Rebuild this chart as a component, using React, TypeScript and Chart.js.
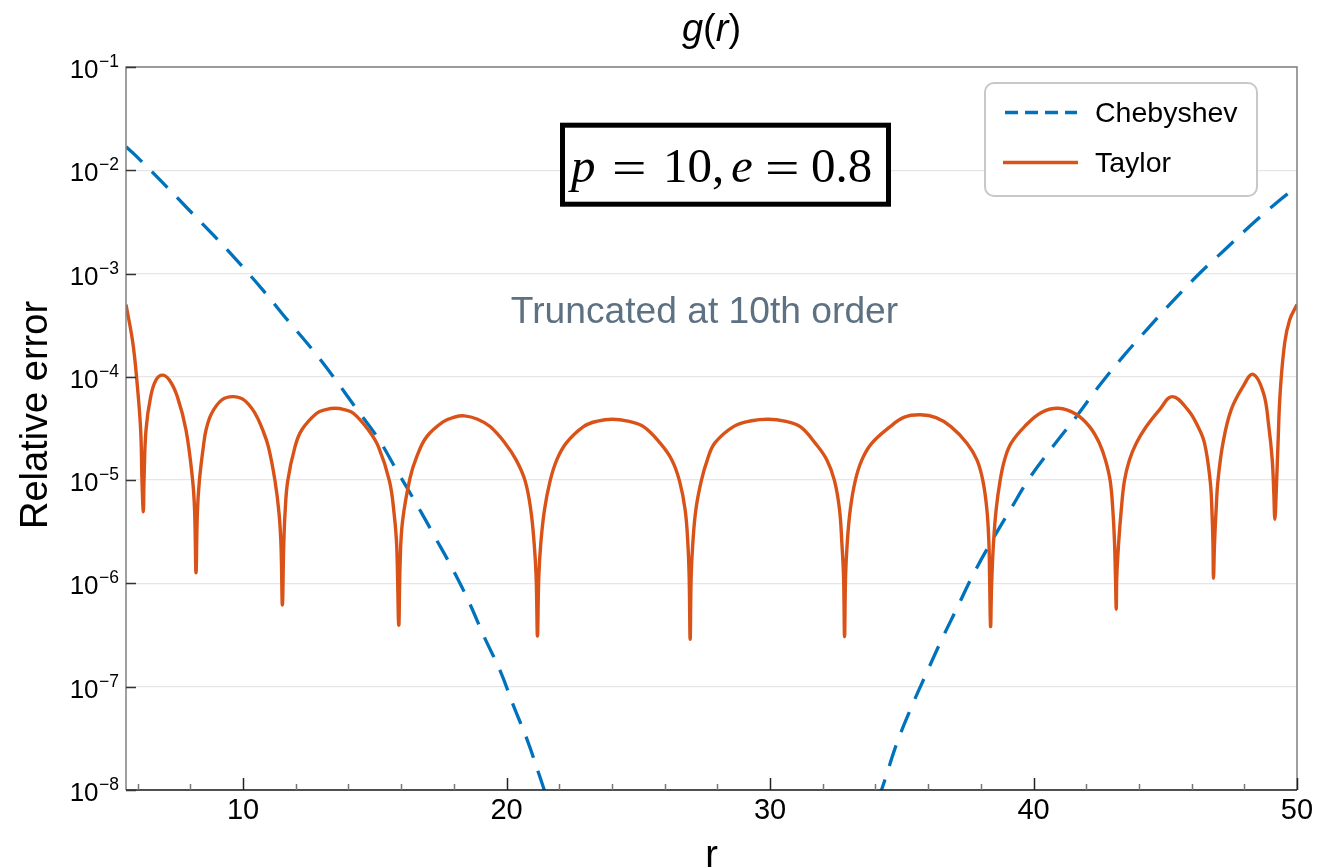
import React, { useEffect, useRef } from 'react';
import { Chart, registerables } from 'chart.js';

Chart.register(...registerables);

// ---------- axis ranges & ticks ----------
const xMin = 5.5556;
const xMax = 50;
const yMin = 1e-8;
const yMax = 1e-1;
const xMajorTicks = [10, 20, 30, 40, 50];
const xMinorTicks = [6, 8, 12, 14, 16, 18, 22, 24, 26, 28, 32, 34, 36, 38, 42, 44, 46, 48];
const yTickValues = [1e-8, 1e-7, 1e-6, 1e-5, 1e-4, 1e-3, 1e-2, 1e-1];
const yTickExponents = ['−8', '−7', '−6', '−5', '−4', '−3', '−2', '−1'];

// ---------- Taylor series relative error ----------
const taylorR = [
  5.5556, 5.809, 5.96, 6.112, 6.163, 6.214,
  6.239, 6.315, 6.492, 6.694, 6.935, 7.201, 7.504, 7.833, 8.087, 8.163, 8.213,
  8.264, 8.34, 8.492, 8.593, 8.808, 9.188, 9.605, 10.035, 10.453, 10.744, 10.959, 11.212, 11.364, 11.44, 11.491,
  11.541, 11.592, 11.693, 11.972, 12.225, 12.794, 13.14, 13.49, 13.84, 14.186, 14.755, 15.135, 15.553, 15.73, 15.831, 15.907,
  15.96, 16.05, 16.338, 16.591, 16.971, 17.604, 18.0, 18.4, 18.9, 19.375, 19.945, 20.362, 20.704, 20.919, 21.046, 21.122, 21.172,
  21.223, 21.299, 21.438, 21.653, 21.906, 22.261, 22.919, 23.45, 24.019, 24.6, 25.197, 25.829, 26.272, 26.563, 26.778, 26.88, 26.93, 26.968,
  27.006, 27.069, 27.183, 27.39, 27.62, 27.9, 28.613, 29.3, 29.942, 30.55, 31.144, 31.714, 32.157, 32.448, 32.638, 32.726, 32.79, 32.828,
  32.866, 32.929, 33.043, 33.233, 33.486, 33.865, 34.561, 35.1, 35.7, 36.3, 36.865, 37.472, 37.852, 38.079, 38.231, 38.307, 38.333, 38.37,
  38.41, 38.48, 38.58, 38.73, 38.9, 39.15, 39.66, 40.3, 40.95, 41.6, 42.125, 42.5, 42.73, 42.91, 43.01, 43.075, 43.11, 43.14,
  43.16, 43.23, 43.33, 43.45, 43.64, 43.9, 44.28, 44.78, 45.26, 45.86, 46.24, 46.49, 46.705, 46.77, 46.81, 46.83,
  46.87, 46.93, 47.0, 47.19, 47.5, 47.95, 48.33, 48.73, 48.93, 49.06, 49.12, 49.16,
  49.21, 49.28, 49.36, 49.53, 49.72, 50.0,
];
const taylorErr = [
  5.01e-4, 2.19e-4, 9.68e-5, 3.06e-5, 9.82e-6, 4.95e-6,
  9.82e-6, 3.06e-5, 6.44e-5, 9.33e-5, 1.04e-4, 9.33e-5, 6.44e-5, 3.06e-5, 9.82e-6, 4.78e-6, 1.27e-6,
  4.78e-6, 9.82e-6, 2.11e-5, 3.06e-5, 4.44e-5, 5.97e-5, 6.44e-5, 5.97e-5, 4.44e-5, 3.06e-5, 2.11e-5, 9.82e-6, 4.78e-6, 2.28e-6, 6.19e-7,
  2.28e-6, 4.78e-6, 9.82e-6, 2.11e-5, 3.06e-5, 4.44e-5, 4.82e-5, 4.97e-5, 4.82e-5, 4.44e-5, 3.06e-5, 2.11e-5, 9.82e-6, 4.78e-6, 2.28e-6, 3.96e-7,
  1.58e-6, 3.98e-6, 1.05e-5, 1.69e-5, 2.64e-5, 3.69e-5, 4.06e-5, 4.19e-5, 3.89e-5, 3.3e-5, 2.28e-5, 1.57e-5, 9.84e-6, 5.15e-6, 2.45e-6, 1.16e-6, 3.1e-7,
  1.16e-6, 2.45e-6, 5.15e-6, 9.84e-6, 1.57e-5, 2.28e-5, 3.3e-5, 3.73e-5, 3.89e-5, 3.73e-5, 3.3e-5, 2.28e-5, 1.57e-5, 9.84e-6, 5.15e-6, 2.45e-6, 1.16e-6, 2.88e-7,
  1.16e-6, 2.45e-6, 5.15e-6, 9.84e-6, 1.57e-5, 2.28e-5, 3.3e-5, 3.76e-5, 3.89e-5, 3.73e-5, 3.3e-5, 2.28e-5, 1.57e-5, 9.84e-6, 5.15e-6, 2.45e-6, 1.16e-6, 3.06e-7,
  1.16e-6, 2.45e-6, 5.15e-6, 9.84e-6, 1.57e-5, 2.28e-5, 3.3e-5, 4.07e-5, 4.29e-5, 4.03e-5, 3.3e-5, 2.28e-5, 1.57e-5, 9.84e-6, 5.15e-6, 2.45e-6, 1.16e-6, 3.82e-7,
  9.89e-7, 2.45e-6, 5.15e-6, 9.84e-6, 1.57e-5, 2.28e-5, 3.3e-5, 4.52e-5, 4.97e-5, 4.37e-5, 3.3e-5, 2.28e-5, 1.57e-5, 9.84e-6, 5.15e-6, 2.45e-6, 1.16e-6, 5.62e-7,
  1.16e-6, 2.45e-6, 5.15e-6, 9.84e-6, 1.57e-5, 2.28e-5, 3.3e-5, 4.79e-5, 6.44e-5, 4.79e-5, 3.3e-5, 2.28e-5, 9.84e-6, 5.15e-6, 2.45e-6, 1.12e-6,
  2.45e-6, 5.15e-6, 9.84e-6, 2.28e-5, 4.79e-5, 8.05e-5, 1.06e-4, 6.93e-5, 3.3e-5, 1.57e-5, 7.46e-6, 4.18e-6,
  7.46e-6, 2.28e-5, 6.93e-5, 2.11e-4, 3.56e-4, 5.01e-4,
];

// ---------- Chebyshev relative error (gap = below 1e-8) ----------
const chebR = [
  5.5556, 5.897, 6.91, 7.884, 8.884, 9.858, 10.769, 11.68, 12.591, 13.439, 14.287, 15.135,
  15.857, 16.566, 17.274, 17.958, 18.591, 19.147, 19.755, 20.261, 20.793, 21.248, 21.43, 21.56,
  27.8,
  34.1, 34.23, 34.371, 34.814, 35.358, 35.889, 36.509, 37.092, 37.724, 38.42, 39.154, 39.85,
  40.762, 41.623, 42.471, 43.395, 44.344, 45.293, 46.267, 47.28, 48.33, 49.431, 50.0,
];
const chebErr = [
  1.69e-2, 1.41e-2, 7.76e-3, 4.29e-3, 2.34e-3, 1.26e-3, 6.84e-4, 3.56e-4, 1.89e-4, 9.91e-5, 4.97e-5, 2.51e-5,
  1.21e-5, 5.97e-6, 2.84e-6, 1.37e-6, 6.47e-7, 3.05e-7, 1.43e-7, 6.56e-8, 3.01e-8, 1.38e-8, 1.0e-8, 7.94e-9,
  null,
  7.94e-9, 1.0e-8, 1.28e-8, 2.84e-8, 6.28e-8, 1.27e-7, 2.84e-7, 5.74e-7, 1.24e-6, 2.59e-6, 5.35e-6, 1.05e-5,
  2.16e-5, 4.12e-5, 8.05e-5, 1.57e-4, 2.95e-4, 5.43e-4, 9.84e-4, 1.72e-3, 3.07e-3, 5.36e-3, 6.92e-3,
];

const seriesNames = ['Chebyshev', 'Taylor'];
const titleParts = [
  { t: 'g', italic: true },
  { t: '(', italic: false },
  { t: 'r', italic: true },
  { t: ')', italic: false },
];
const boxParts = [
  { t: 'p', italic: true, x: 571 },
  { t: '=', italic: false, x: 612, eq: true },
  { t: '10,', italic: false, x: 663 },
  { t: 'e', italic: true, x: 731 },
  { t: '=', italic: false, x: 765, eq: true },
  { t: '0.8', italic: false, x: 811 },
];
const noteText = 'Truncated at 10th order';
const xTitle = 'r';
const yTitle = 'Relative error';

const BLUE = '#0072BD';
const ORANGE = '#D95319';
const SANS = '"Liberation Sans", Arial, Helvetica, sans-serif';
const SERIF = '"Liberation Serif", "Times New Roman", serif';

const decorPlugin = {
  id: 'decor',
  afterDraw(chart: any) {
    const { ctx, chartArea: a } = chart;
    const xs = chart.scales.x;
    const ys = chart.scales.y;
    ctx.save();

    // frame
    ctx.lineWidth = 1.5;
    ctx.strokeStyle = '#808080';
    ctx.beginPath();
    ctx.moveTo(a.left, a.bottom);
    ctx.lineTo(a.left, a.top);
    ctx.lineTo(a.right, a.top);
    ctx.lineTo(a.right, a.bottom);
    ctx.stroke();
    ctx.strokeStyle = '#1a1a1a';
    ctx.beginPath();
    ctx.moveTo(a.left, a.bottom);
    ctx.lineTo(a.right, a.bottom);
    ctx.stroke();

    // y ticks (inward) and labels
    ctx.strokeStyle = '#333333';
    ctx.lineWidth = 1.5;
    yTickValues.forEach((v, i) => {
      const py = Math.round(ys.getPixelForValue(v)) + 0.5;
      ctx.beginPath();
      ctx.moveTo(a.left, py);
      ctx.lineTo(a.left + 10, py);
      ctx.stroke();
      ctx.fillStyle = '#000';
      ctx.textAlign = 'right';
      ctx.textBaseline = 'alphabetic';
      ctx.font = `17.5px ${SANS}`;
      const sup = yTickExponents[i];
      const supW = ctx.measureText(sup).width;
      const rightX = a.left - 7;
      ctx.fillText(sup, rightX, py - 1);
      ctx.font = `26px ${SANS}`;
      ctx.fillText('10', rightX - supW - 0.5, py + 10);
    });

    // x ticks (inward)
    xMajorTicks.forEach((v) => {
      const px = Math.round(xs.getPixelForValue(v)) + 0.5;
      ctx.strokeStyle = '#222';
      ctx.beginPath();
      ctx.moveTo(px, a.bottom);
      ctx.lineTo(px, a.bottom - 12);
      ctx.stroke();
    });
    xMinorTicks.forEach((v) => {
      const px = Math.round(xs.getPixelForValue(v)) + 0.5;
      ctx.strokeStyle = '#777';
      ctx.beginPath();
      ctx.moveTo(px, a.bottom);
      ctx.lineTo(px, a.bottom - 6);
      ctx.stroke();
    });

    // title g(r)
    ctx.fillStyle = '#000';
    ctx.textAlign = 'left';
    ctx.textBaseline = 'alphabetic';
    const tSize = 38;
    let tw = 0;
    titleParts.forEach((p) => {
      ctx.font = `${p.italic ? 'italic ' : ''}${tSize}px ${SANS}`;
      tw += ctx.measureText(p.t).width;
    });
    let tx = (a.left + a.right) / 2 - tw / 2;
    titleParts.forEach((p) => {
      ctx.font = `${p.italic ? 'italic ' : ''}${tSize}px ${SANS}`;
      ctx.fillText(p.t, tx, 41);
      tx += ctx.measureText(p.t).width;
    });

    // axis titles
    ctx.font = `38px ${SANS}`;
    ctx.textAlign = 'center';
    ctx.fillText(xTitle, (a.left + a.right) / 2, 867);
    ctx.save();
    ctx.translate(47, 415);
    ctx.rotate(-Math.PI / 2);
    ctx.fillText(yTitle, 0, 0);
    ctx.restore();

    // annotation box
    ctx.fillStyle = '#fff';
    ctx.fillRect(562, 125, 327, 80);
    ctx.strokeStyle = '#000';
    ctx.lineWidth = 5;
    ctx.strokeRect(562.5, 125.2, 326, 79);
    ctx.fillStyle = '#000';
    ctx.textAlign = 'left';
    boxParts.forEach((p) => {
      ctx.font = `${p.italic ? 'italic ' : ''}49px ${SERIF}`;
      if (p.eq) {
        ctx.save();
        ctx.translate(p.x, 184);
        ctx.scale(1.25, 1);
        ctx.fillText(p.t, 0, 0);
        ctx.restore();
      } else {
        ctx.fillText(p.t, p.x, 181.7);
      }
    });

    // note
    ctx.fillStyle = '#5e7183';
    ctx.font = `37.2px ${SANS}`;
    ctx.textAlign = 'center';
    ctx.fillText(noteText, 704.5, 322.5);

    // legend
    ctx.beginPath();
    ctx.roundRect(985, 83, 272, 113, 9);
    ctx.fillStyle = '#fff';
    ctx.fill();
    ctx.strokeStyle = '#c8c8c8';
    ctx.lineWidth = 2;
    ctx.stroke();
    ctx.lineWidth = 3.3;
    ctx.strokeStyle = BLUE;
    ctx.setLineDash([13, 7]);
    ctx.beginPath();
    ctx.moveTo(1005, 112.5);
    ctx.lineTo(1077, 112.5);
    ctx.stroke();
    ctx.setLineDash([]);
    ctx.strokeStyle = ORANGE;
    ctx.beginPath();
    ctx.moveTo(1003, 162.5);
    ctx.lineTo(1078, 162.5);
    ctx.stroke();
    ctx.fillStyle = '#000';
    ctx.font = `28.5px ${SANS}`;
    ctx.textAlign = 'left';
    ctx.fillText(seriesNames[0], 1095, 122.3);
    ctx.fillText(seriesNames[1], 1095, 171.7);

    ctx.restore();
  },
};

export default function App() {
  const ref = useRef<HTMLCanvasElement | null>(null);
  useEffect(() => {
    if (!ref.current) return;
    const chart = new Chart(ref.current, {
      type: 'scatter',
      data: {
        datasets: [
          {
            label: seriesNames[1],
            data: taylorR.map((r, i) => ({ x: r, y: taylorErr[i] })),
            showLine: true,
            borderColor: ORANGE,
            borderWidth: 3.4,
            pointRadius: 0,
            tension: 0.4,
            fill: false,
          },
          {
            label: seriesNames[0],
            data: chebR.map((r, i) => ({ x: r, y: chebErr[i] })),
            showLine: true,
            borderColor: BLUE,
            borderWidth: 3.3,
            borderDash: [22, 14],
            pointRadius: 0,
            tension: 0.4,
            spanGaps: false,
            fill: false,
          },
        ],
      } as any,
      options: {
        animation: false,
        responsive: false,
        devicePixelRatio: 1,
        layout: { padding: { left: 0, right: 35, top: 67, bottom: 0 } },
        plugins: { legend: { display: false }, tooltip: { enabled: false }, title: { display: false } },
        scales: {
          x: {
            type: 'linear',
            min: xMin,
            max: xMax,
            afterBuildTicks: (s: any) => {
              s.ticks = xMajorTicks.map((v) => ({ value: v }));
            },
            afterFit: (s: any) => {
              s.height = 78;
            },
            grid: { display: false, drawTicks: false },
            border: { display: false },
            ticks: {
              color: '#000',
              font: { family: SANS, size: 29 },
              padding: 4,
              maxRotation: 0,
              autoSkip: false,
            },
          },
          y: {
            type: 'logarithmic',
            min: yMin,
            max: yMax,
            afterBuildTicks: (s: any) => {
              s.ticks = yTickValues.map((v) => ({ value: v }));
            },
            afterFit: (s: any) => {
              s.width = 126;
            },
            grid: { color: '#e6e6e6', lineWidth: 1.3, drawTicks: false },
            border: { display: false },
            ticks: { display: false },
          },
        },
      } as any,
      plugins: [decorPlugin],
    });
    return () => chart.destroy();
  }, []);
  return (
    <div style={{ position: 'fixed', left: 0, top: 0, width: 1332, height: 868, background: '#fff' }}>
      <canvas ref={ref} width={1332} height={868} style={{ display: 'block' }} />
    </div>
  );
}
